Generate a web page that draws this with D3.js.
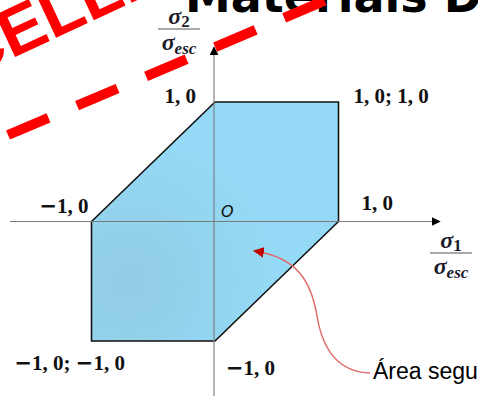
<!DOCTYPE html>
<html>
<head>
<meta charset="utf-8">
<script src="https://cdn.jsdelivr.net/npm/d3@7/dist/d3.min.js"></script>
<style>
  html, body { margin: 0; padding: 0; background: #fff; overflow: hidden; }
  svg { display: block; }
</style>
</head>
<body>
<script>
// Yield envelope of the maximum-normal-stress criterion, in units of sigma/sigma_esc
const regionS1 = [-1, 0, 1, 1, 0, -1];
const regionS2 = [0, 1, 1, 0, -1, -1];

// Vertex labels (index into the region vertices)
const labelTexts = ["1, 0", "1, 0; 1, 0", "1, 0", "\u22121, 0", "\u22121, 0; \u22121, 0", "\u22121, 0"];
const labelVertex = [1, 2, 3, 0, 5, 4];

// Axis extents in data units
const s1Extent = [-1.66, 1.82];
const s2Extent = [-1.47, 1.46];

const title = "Materiais Dúcteis";
const stampHead = "CANC", stampTail = "ELLED";
const calloutText = "Área segura";

const W = 478, H = 396;
const x = d3.scaleLinear().domain([-1, 1]).range([91.5, 338.5]);
const y = d3.scaleLinear().domain([-1, 1]).range([341, 102]);

const svg = d3.select("body").append("svg").attr("width", W).attr("height", H);
const defs = svg.append("defs");

// soft grey shading toward the lower-left of the region
const shade = defs.append("radialGradient").attr("id", "shade")
  .attr("gradientUnits", "userSpaceOnUse")
  .attr("cx", x(-0.7)).attr("cy", y(-0.5)).attr("r", 150);
shade.append("stop").attr("offset", 0).attr("stop-color", "#8a9aa2").attr("stop-opacity", 0.22);
shade.append("stop").attr("offset", 1).attr("stop-color", "#8a9aa2").attr("stop-opacity", 0);

const arrow = (id, color, size) => {
  defs.append("marker").attr("id", id)
    .attr("viewBox", "0 0 10 10").attr("refX", 9).attr("refY", 5)
    .attr("markerWidth", size).attr("markerHeight", size)
    .attr("markerUnits", "userSpaceOnUse").attr("orient", "auto")
    .append("path").attr("d", "M0,0 L10,5 L0,10 Z").attr("fill", color);
};
arrow("axisArrow", "#000", 9);
arrow("redArrow", "#c00000", 11);

// title (partly above the view)
svg.append("text").attr("x", 185).attr("y", 12)
  .attr("font-family", "DejaVu Sans").attr("font-weight", "bold")
  .attr("font-size", 46).attr("fill", "#000").text(title);

// safe region
const pts = regionS1.map((v, i) => [x(v), y(regionS2[i])]);
const hex = d3.line()(pts) + "Z";
svg.append("path").attr("d", hex).attr("fill", "#94daf6");
svg.append("path").attr("d", hex).attr("fill", "url(#shade)");
svg.append("path").attr("d", hex).attr("fill", "none")
  .attr("stroke", "#111").attr("stroke-width", 1.6).attr("stroke-linejoin", "miter");

// axes
svg.append("line")
  .attr("x1", x(s1Extent[0])).attr("x2", x(s1Extent[1]))
  .attr("y1", y(0)).attr("y2", y(0))
  .attr("stroke", "#7a7a7a").attr("stroke-width", 1.1)
  .attr("marker-end", "url(#axisArrow)");
svg.append("line")
  .attr("x1", x(0) - 1).attr("x2", x(0) - 1)
  .attr("y1", y(s2Extent[0])).attr("y2", y(s2Extent[1]))
  .attr("stroke", "#7a7a7a").attr("stroke-width", 1.1)
  .attr("marker-end", "url(#axisArrow)");

// vertex labels; the minus sign is set in a wider face
const offsets = [
  { dx: -19, dy: 1, anchor: "end" },
  { dx: 15, dy: 1, anchor: "start" },
  { dx: 23, dy: -12, anchor: "start" },
  { dx: -3, dy: -9, anchor: "end" },
  { dx: -77, dy: 29, anchor: "start" },
  { dx: 11, dy: 34, anchor: "start" }
];
labelTexts.forEach((t, i) => {
  const v = labelVertex[i];
  const txt = svg.append("text")
    .attr("x", x(regionS1[v]) + offsets[i].dx)
    .attr("y", y(regionS2[v]) + offsets[i].dy)
    .attr("text-anchor", offsets[i].anchor)
    .attr("font-family", "Liberation Serif").attr("font-weight", "bold")
    .attr("font-size", 21).attr("fill", "#111");
  t.split(/(\u2212)/).filter(s => s.length).forEach(part => {
    const ts = txt.append("tspan").text(part);
    if (part === "\u2212") ts.attr("font-family", "DejaVu Sans");
  });
});

// origin
svg.append("text").attr("x", x(0) + 6).attr("y", y(0) - 5)
  .attr("font-family", "DejaVu Sans").attr("font-style", "italic")
  .attr("font-size", 16).attr("fill", "#111").text("O");

// axis titles as fractions sigma_i / sigma_esc
function fraction(cx, top, idx) {
  const g = svg.append("g").attr("font-family", "Liberation Serif")
    .attr("font-weight", "bold").attr("font-style", "italic").attr("fill", "#1b1b2a");
  const num = g.append("text").attr("x", cx).attr("y", top + 18).attr("text-anchor", "middle")
    .attr("font-size", 24);
  num.append("tspan").text("σ");
  num.append("tspan").attr("font-size", 17).attr("font-style", "normal").attr("dy", 3).text(idx);
  g.append("line").attr("x1", cx - 21).attr("x2", cx + 21)
    .attr("y1", top + 23).attr("y2", top + 23)
    .attr("stroke", "#555").attr("stroke-width", 1.2);
  const den = g.append("text").attr("x", cx).attr("y", top + 44).attr("text-anchor", "middle")
    .attr("font-size", 24);
  den.append("tspan").text("σ");
  den.append("tspan").attr("font-size", 17).attr("dy", 4).text("esc");
}
fraction(179, 6, "2");
fraction(451, 230, "1");

// callout
svg.append("path")
  .attr("d", "M370,373 C336,372 322,346 317,316 C311,280 296,257 254,251")
  .attr("fill", "none").attr("stroke", "#e06a6a").attr("stroke-width", 1.5)
  .attr("marker-end", "url(#redArrow)");
svg.append("text").attr("x", 373).attr("y", 379)
  .attr("font-family", "Liberation Sans").attr("font-size", 23)
  .attr("fill", "#000").text(calloutText);

// red stamp, split so the second half starts exactly at the anchor point
const stamp = svg.append("g")
  .attr("transform", "translate(11,59) rotate(-25)")
  .attr("font-family", "Liberation Sans").attr("font-weight", "bold")
  .attr("font-size", 68).attr("fill", "#ff0000");
stamp.append("text").attr("text-anchor", "end").text(stampHead);
stamp.append("text").attr("text-anchor", "start").text(stampTail);
svg.append("line")
  .attr("x1", 8).attr("y1", 135)
  .attr("x2", 8 + 380 * Math.cos(23 * Math.PI / 180))
  .attr("y2", 135 - 380 * Math.sin(23 * Math.PI / 180))
  .attr("stroke", "#ff0000").attr("stroke-width", 10)
  .attr("stroke-dasharray", "44 31");
</script>
</body>
</html>
